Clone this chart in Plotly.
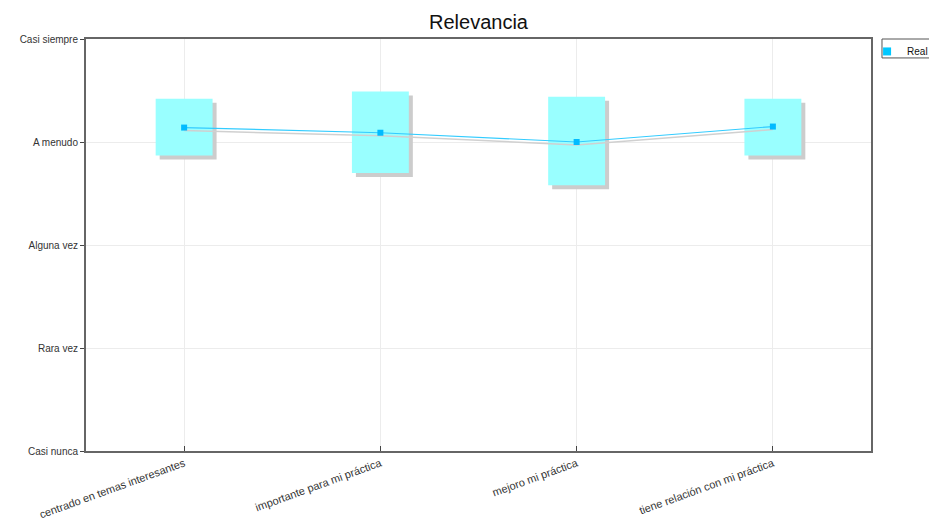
import plotly.graph_objects as go

categorias = [
    "centrado en temas interesantes",
    "importante para mi práctica",
    "mejoro mi práctica",
    "tiene relación con mi práctica",
]
media = [4.14, 4.09, 4.00, 4.15]
caja_alto = [4.42, 4.49, 4.44, 4.42]
caja_bajo = [3.87, 3.70, 3.58, 3.87]
niveles = [1, 2, 3, 4, 5]
etiquetas_y = ["Casi nunca", "Rara vez", "Alguna vez", "A menudo", "Casi siempre"]

W, H = 929, 519
margin = dict(l=86, r=58, t=39, b=68, autoexpand=False)
plot_w = W - margin["l"] - margin["r"]
plot_h = H - margin["t"] - margin["b"]
x_rango = [-0.5, len(categorias) - 0.5]
y_rango = [1, 5]
ancho = 0.29
# desplazamiento de la sombra (px -> unidades del eje)
dx = 4 * (x_rango[1] - x_rango[0]) / plot_w
dy = 4 * (y_rango[1] - y_rango[0]) / plot_h

alturas = [a - b for a, b in zip(caja_alto, caja_bajo)]
fuente = "Liberation Sans, Arial"

fig = go.Figure()

# sombras
fig.add_trace(go.Bar(
    x=categorias, y=alturas, base=[b - dy for b in caja_bajo],
    width=ancho, offset=-ancho / 2 + dx,
    marker=dict(color="#cccccc", line=dict(width=0)),
    showlegend=False, hoverinfo="skip",
))
fig.add_trace(go.Scatter(
    x=categorias, y=[m - 0.75 * dy for m in media], mode="lines",
    line=dict(color="#d0d0d0", width=1.5),
    showlegend=False, hoverinfo="skip",
))

# cajas
fig.add_trace(go.Bar(
    x=categorias, y=alturas, base=caja_bajo, width=ancho, offset=-ancho / 2,
    marker=dict(color="#99ffff", line=dict(width=0)),
    showlegend=False,
))
fig.add_trace(go.Scatter(
    x=categorias, y=media, mode="lines+markers",
    line=dict(color="#33ccff", width=1.2),
    marker=dict(symbol="square", size=6, color="#00bbff"),
    showlegend=False,
))
# entrada de leyenda
fig.add_trace(go.Scatter(
    x=[None], y=[None], mode="markers", name="Real",
    marker=dict(symbol="square", size=8, color="#00c8ff"),
))

# marco de la leyenda
fig.add_shape(type="rect", xref="paper", yref="paper",
              x0=1.014, x1=1.2, y0=0.954, y1=1.0,
              line=dict(color="#555555", width=1), fillcolor="rgba(0,0,0,0)")

fig.update_layout(
    width=W, height=H,
    margin=margin,
    paper_bgcolor="white", plot_bgcolor="white",
    barmode="overlay",
    font=dict(family=fuente, size=10, color="#333333"),
    title=dict(text="Relevancia", x=0.5, xref="paper", y=0.972, yanchor="top",
               font=dict(family="Liberation Sans, Arial", size=20, color="#111111")),
    showlegend=True,
    legend=dict(x=0.995, y=1.005, xanchor="left", yanchor="top",
                borderwidth=0, bgcolor="rgba(0,0,0,0)",
                font=dict(size=10, color="#111111"),
                itemwidth=30, tracegroupgap=0,
                entrywidth=60, entrywidthmode="pixels"),
    xaxis=dict(
        type="category", range=x_rango, tickangle=-20,
        showgrid=True, gridcolor="#ececec", gridwidth=1,
        showline=True, linecolor="#666666", linewidth=2, mirror=True,
        ticks="inside", ticklen=5, tickcolor="#444444",
        tickfont=dict(size=11, color="#333333"),
        zeroline=False,
    ),
    yaxis=dict(
        range=y_rango, tickvals=niveles, ticktext=etiquetas_y,
        showgrid=True, gridcolor="#ececec", gridwidth=1,
        showline=True, linecolor="#666666", linewidth=2, mirror=True,
        ticks="outside", ticklen=4, tickcolor="#444444",
        tickfont=dict(size=10, color="#333333"),
        zeroline=False,
    ),
)

# sin el margen por defecto del <body> y sin barra de herramientas
fig.write_html(
    "out.html",
    config={"displayModeBar": False},
    post_script="document.body.style.margin = '0';",
)
